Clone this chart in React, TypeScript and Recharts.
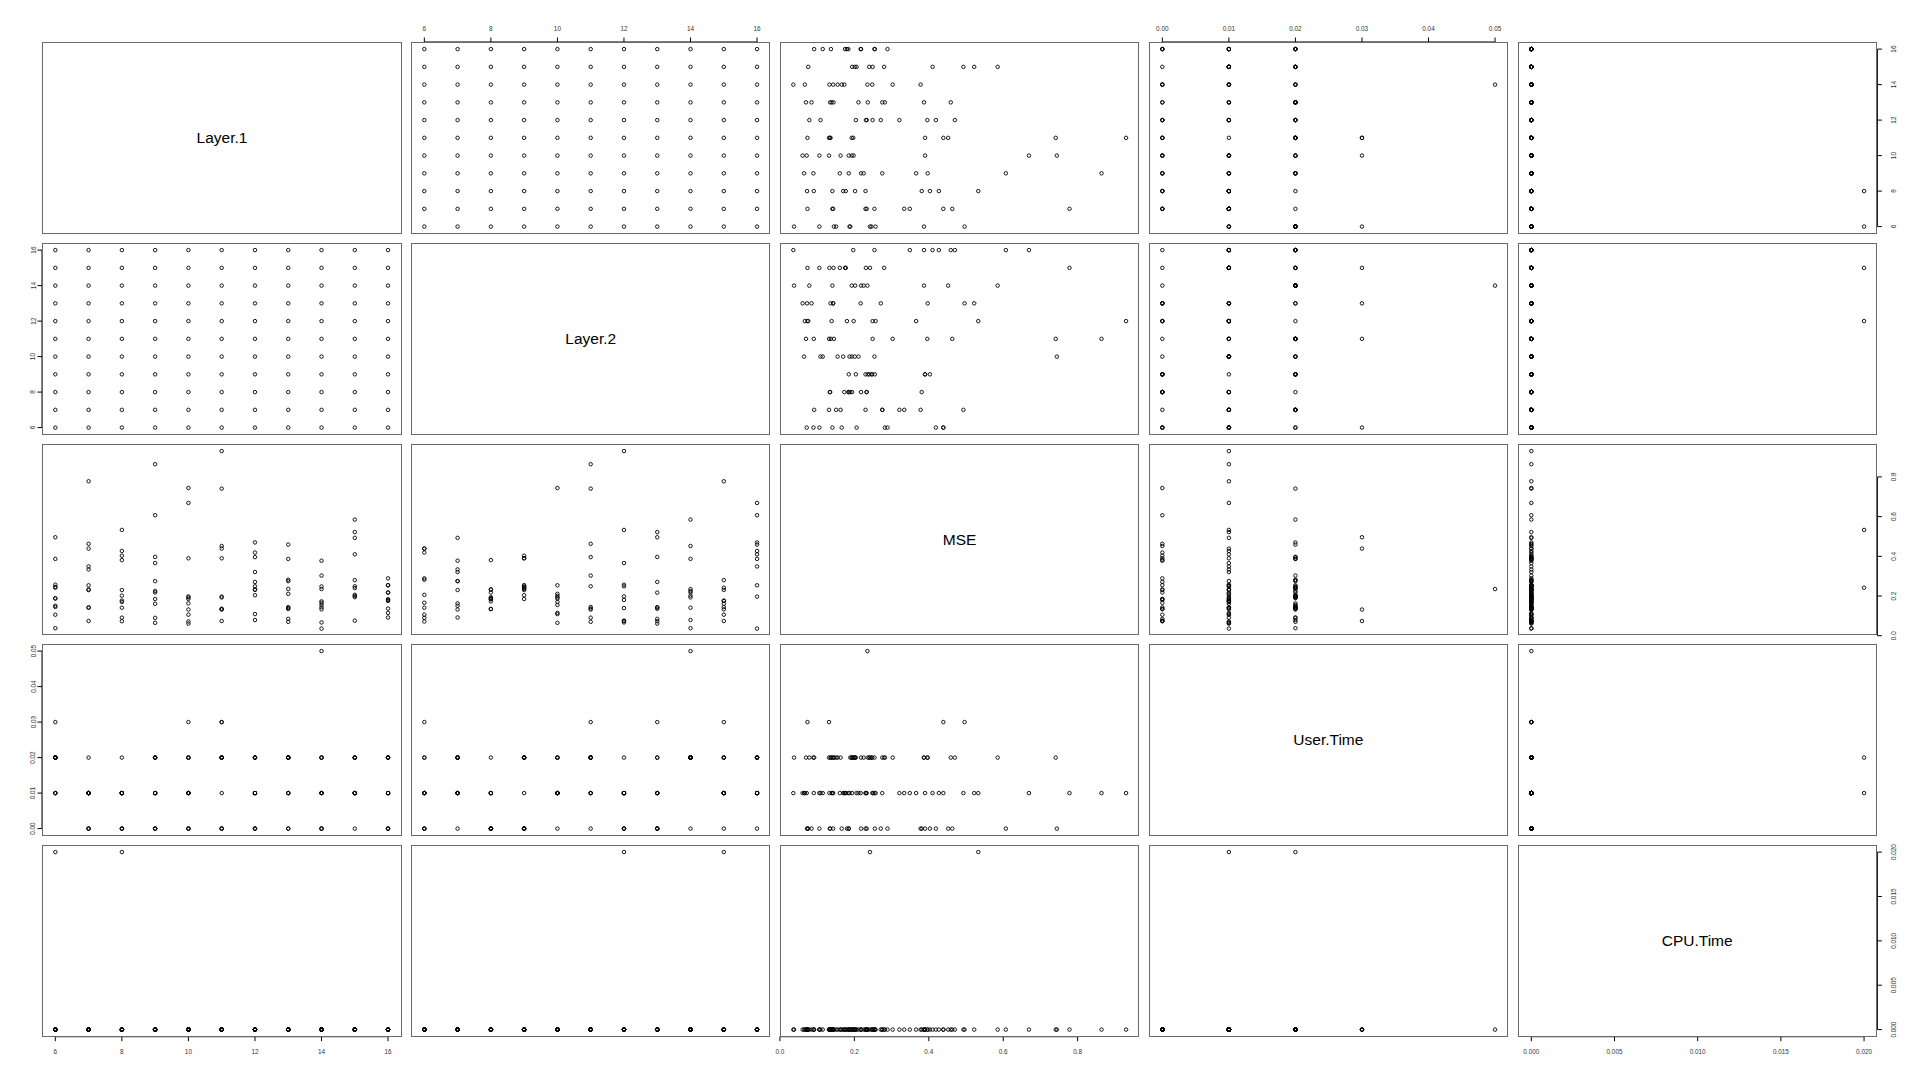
import { ReferenceLine, Scatter, ScatterChart, XAxis, YAxis } from "recharts";

// Layer.1 / Layer.2 grid (every combination of 6..16)
const layer1Values = [6, 7, 8, 9, 10, 11, 12, 13, 14, 15, 16];
const layer2Values = [6, 7, 8, 9, 10, 11, 12, 13, 14, 15, 16];

// MSE per Layer.1 value, ordered by Layer.2 = 6..16
const mseL1_6 = [0.106, 0.151, 0.189, 0.246, 0.187, 0.145, 0.257, 0.496, 0.038, 0.242, 0.387];
const mseL1_7 = [0.439, 0.334, 0.233, 0.23, 0.254, 0.463, 0.074, 0.143, 0.141, 0.778, 0.349];
const mseL1_8 = [0.141, 0.23, 0.381, 0.403, 0.17, 0.091, 0.533, 0.073, 0.202, 0.177, 0.427];
const mseL1_9 = [0.09, 0.275, 0.218, 0.185, 0.065, 0.864, 0.366, 0.397, 0.225, 0.161, 0.607];
const mseL1_10 = [0.072, 0.163, 0.185, 0.39, 0.744, 0.132, 0.198, 0.061, 0.193, 0.106, 0.669];
const mseL1_11 = [0.439, 0.132, 0.134, 0.39, 0.193, 0.741, 0.93, 0.136, 0.452, 0.074, 0.197];
const mseL1_12 = [0.419, 0.321, 0.233, 0.204, 0.109, 0.396, 0.249, 0.271, 0.079, 0.231, 0.47];
const mseL1_13 = [0.282, 0.275, 0.135, 0.236, 0.211, 0.07, 0.139, 0.085, 0.387, 0.144, 0.459];
const mseL1_14 = [0.166, 0.378, 0.173, 0.248, 0.155, 0.303, 0.067, 0.143, 0.235, 0.133, 0.036];
const mseL1_15 = [0.206, 0.493, 0.194, 0.24, 0.201, 0.249, 0.076, 0.522, 0.585, 0.28, 0.41];
const mseL1_16 = [0.289, 0.092, 0.184, 0.255, 0.115, 0.137, 0.18, 0.217, 0.218, 0.175, 0.254];

// User.Time per Layer.1 value, ordered by Layer.2 = 6..16
const utL1_6 = [0.01, 0.02, 0.02, 0.02, 0.01, 0.02, 0.01, 0.03, 0.02, 0.02, 0.02];
const utL1_7 = [0.01, 0.01, 0.01, 0, 0.01, 0, 0, 0.01, 0.02, 0.01, 0.01];
const utL1_8 = [0.01, 0.01, 0, 0, 0.01, 0.01, 0.01, 0, 0.02, 0.01, 0.01];
const utL1_9 = [0.02, 0.02, 0, 0, 0.01, 0.01, 0.01, 0.02, 0.02, 0.01, 0];
const utL1_10 = [0.01, 0.02, 0, 0.01, 0, 0.03, 0.02, 0.01, 0.02, 0, 0.01];
const utL1_11 = [0.03, 0.02, 0, 0, 0.02, 0.02, 0.01, 0.02, 0, 0.03, 0.02];
const utL1_12 = [0, 0.01, 0, 0.02, 0.01, 0.02, 0.01, 0, 0.02, 0.01, 0.02];
const utL1_13 = [0.02, 0.01, 0, 0.02, 0.01, 0.02, 0.01, 0, 0.02, 0.02, 0.02];
const utL1_14 = [0, 0, 0.01, 0.02, 0.02, 0.02, 0.01, 0, 0.05, 0.01, 0.01];
const utL1_15 = [0.01, 0.01, 0.01, 0.02, 0.02, 0.01, 0, 0.01, 0.02, 0.02, 0.01];
const utL1_16 = [0, 0.02, 0.01, 0, 0.01, 0.02, 0, 0.01, 0.02, 0.01, 0.02];

// CPU.Time per Layer.1 value, ordered by Layer.2 = 6..16
const cpuL1_6 = [0, 0, 0, 0, 0, 0, 0, 0, 0, 0.02, 0];
const cpuL1_7 = [0, 0, 0, 0, 0, 0, 0, 0, 0, 0, 0];
const cpuL1_8 = [0, 0, 0, 0, 0, 0, 0.02, 0, 0, 0, 0];
const cpuL1_9 = [0, 0, 0, 0, 0, 0, 0, 0, 0, 0, 0];
const cpuL1_10 = [0, 0, 0, 0, 0, 0, 0, 0, 0, 0, 0];
const cpuL1_11 = [0, 0, 0, 0, 0, 0, 0, 0, 0, 0, 0];
const cpuL1_12 = [0, 0, 0, 0, 0, 0, 0, 0, 0, 0, 0];
const cpuL1_13 = [0, 0, 0, 0, 0, 0, 0, 0, 0, 0, 0];
const cpuL1_14 = [0, 0, 0, 0, 0, 0, 0, 0, 0, 0, 0];
const cpuL1_15 = [0, 0, 0, 0, 0, 0, 0, 0, 0, 0, 0];
const cpuL1_16 = [0, 0, 0, 0, 0, 0, 0, 0, 0, 0, 0];

const layerTicks = [6, 8, 10, 12, 14, 16];
const mseTicks = [0, 0.2, 0.4, 0.6, 0.8];
const userTimeTicks = [0, 0.01, 0.02, 0.03, 0.04, 0.05];
const cpuTimeTicks = [0, 0.005, 0.01, 0.015, 0.02];

const mseRows = [mseL1_6, mseL1_7, mseL1_8, mseL1_9, mseL1_10, mseL1_11, mseL1_12, mseL1_13, mseL1_14, mseL1_15, mseL1_16];
const utRows = [utL1_6, utL1_7, utL1_8, utL1_9, utL1_10, utL1_11, utL1_12, utL1_13, utL1_14, utL1_15, utL1_16];
const cpuRows = [cpuL1_6, cpuL1_7, cpuL1_8, cpuL1_9, cpuL1_10, cpuL1_11, cpuL1_12, cpuL1_13, cpuL1_14, cpuL1_15, cpuL1_16];

type Row = { layer1: number; layer2: number; mse: number; userTime: number; cpuTime: number };

const rows: Row[] = layer1Values.flatMap((l1, i) =>
  layer2Values.map((l2, k) => ({
    layer1: l1,
    layer2: l2,
    mse: mseRows[i][k],
    userTime: utRows[i][k],
    cpuTime: cpuRows[i][k]
  }))
);

type VarDef = { key: keyof Row; label: string; ticks: number[]; digits: number };

const variables: VarDef[] = [
  { key: "layer1", label: "Layer.1", ticks: layerTicks, digits: 0 },
  { key: "layer2", label: "Layer.2", ticks: layerTicks, digits: 0 },
  { key: "mse", label: "MSE", ticks: mseTicks, digits: 1 },
  { key: "userTime", label: "User.Time", ticks: userTimeTicks, digits: 2 },
  { key: "cpuTime", label: "CPU.Time", ticks: cpuTimeTicks, digits: 3 }
];

// R-style range: data range extended by 4% on each side
function rDomain(key: keyof Row): [number, number] {
  const vals = rows.map((r) => r[key]);
  const lo = Math.min(...vals);
  const hi = Math.max(...vals);
  const pad = (hi - lo) * 0.04;
  return [lo - pad, hi + pad];
}

const PANEL_W = 359.4;
const PANEL_H = 191.7;
const LEFT0 = 42.3;
const TOP0 = 42.3;
const STEP_X = 368.8;
const STEP_Y = 200.7;
const AXIS_X_H = 24;
const AXIS_Y_W = 26;
const GUTTER = 12; // room so edge tick labels are not clipped
const TICK_FONT = "'Liberation Sans', Arial, Helvetica, sans-serif";

type Side = "top" | "bottom" | "left" | "right";

function makeTick(side: Side, digits: number) {
  return (props: any) => {
    const { x, y, payload } = props;
    const label = Number(payload.value).toFixed(digits);
    const style = { fontSize: 6.4, fill: "#333", fontFamily: TICK_FONT };
    if (side === "bottom" || side === "top") {
      const ty = side === "bottom" ? y + 10 : y - 8.8;
      return (
        <text x={x} y={ty} textAnchor="middle" dominantBaseline="central" {...style}>
          {label}
        </text>
      );
    }
    const cx = side === "left" ? x - 4.5 : x + 11.5;
    return (
      <text
        x={cx}
        y={y}
        transform={`rotate(-90 ${cx} ${y})`}
        textAnchor="middle"
        dominantBaseline="central"
        {...style}
      >
        {label}
      </text>
    );
  };
}

const circleShape = (props: any) => (
  <circle cx={props.cx} cy={props.cy} r={1.75} fill="none" stroke="#000" strokeWidth={0.9} />
);

function Panel({ row, col }: { row: number; col: number }) {
  const xv = variables[col];
  const yv = variables[row];
  const top = row === 0 && col % 2 === 1;
  const bottom = row === 4 && col % 2 === 0;
  const left = col === 0 && row % 2 === 1;
  const right = col === 4 && row % 2 === 0;
  const xDom = rDomain(xv.key);
  const yDom = rDomain(yv.key);
  const padL = left ? AXIS_Y_W : 0;
  const padR = right ? AXIS_Y_W : 0;
  const padT = top ? AXIS_X_H : 0;
  const padB = bottom ? AXIS_X_H : 0;
  const boxLeft = LEFT0 + col * STEP_X;
  const boxTop = TOP0 + row * STEP_Y;
  const diag = row === col;
  const xTicks = xv.ticks;
  const yTicks = yv.ticks;

  return (
    <>
      <div
        style={{
          position: "absolute",
          left: boxLeft - padL - GUTTER,
          top: boxTop - padT - GUTTER
        }}
      >
        <ScatterChart
          width={PANEL_W + padL + padR + 2 * GUTTER}
          height={PANEL_H + padT + padB + 2 * GUTTER}
          margin={{ top: GUTTER, right: GUTTER, bottom: GUTTER, left: GUTTER }}
        >
          <XAxis
            type="number"
            dataKey={xv.key}
            domain={xDom}
            allowDataOverflow
            hide={!(top || bottom)}
            orientation={top ? "top" : "bottom"}
            height={AXIS_X_H}
            ticks={xTicks}
            interval={0}
            axisLine={false}
            tickLine={{ stroke: "#000" }}
            tickSize={4.5}
            tickMargin={0}
            tick={makeTick(top ? "top" : "bottom", xv.digits)}
          />
          <YAxis
            type="number"
            dataKey={yv.key}
            domain={yDom}
            allowDataOverflow
            hide={!(left || right)}
            orientation={right ? "right" : "left"}
            width={AXIS_Y_W}
            ticks={yTicks}
            interval={0}
            axisLine={false}
            tickLine={{ stroke: "#000" }}
            tickSize={4.5}
            tickMargin={0}
            tick={makeTick(right ? "right" : "left", yv.digits)}
          />
          {!diag && (
            <Scatter data={rows} isAnimationActive={false} shape={circleShape} />
          )}
          {bottom && (
            <ReferenceLine
              segment={[
                { x: xTicks[0], y: yDom[0] },
                { x: xTicks[xTicks.length - 1], y: yDom[0] }
              ]}
              stroke="#000"
              ifOverflow="visible"
            />
          )}
          {top && (
            <ReferenceLine
              segment={[
                { x: xTicks[0], y: yDom[1] },
                { x: xTicks[xTicks.length - 1], y: yDom[1] }
              ]}
              stroke="#000"
              ifOverflow="visible"
            />
          )}
          {left && (
            <ReferenceLine
              segment={[
                { x: xDom[0], y: yTicks[0] },
                { x: xDom[0], y: yTicks[yTicks.length - 1] }
              ]}
              stroke="#000"
              ifOverflow="visible"
            />
          )}
          {right && (
            <ReferenceLine
              segment={[
                { x: xDom[1], y: yTicks[0] },
                { x: xDom[1], y: yTicks[yTicks.length - 1] }
              ]}
              stroke="#000"
              ifOverflow="visible"
            />
          )}
        </ScatterChart>
      </div>
      <div
        style={{
          position: "absolute",
          left: boxLeft,
          top: boxTop,
          width: PANEL_W,
          height: PANEL_H,
          boxSizing: "border-box",
          border: "1px solid #6a6a6a",
          pointerEvents: "none",
          display: "flex",
          alignItems: "center",
          justifyContent: "center",
          fontFamily: TICK_FONT,
          fontSize: 15.5,
          color: "#000"
        }}
      >
        {diag ? yv.label : null}
      </div>
    </>
  );
}

export default function App() {
  const cells: { row: number; col: number }[] = [];
  for (let r = 0; r < variables.length; r++) {
    for (let c = 0; c < variables.length; c++) cells.push({ row: r, col: c });
  }
  return (
    <div
      style={{
        position: "absolute",
        left: 0,
        top: 0,
        width: 1920,
        height: 1080,
        background: "#fff",
        overflow: "hidden"
      }}
    >
      {cells.map((c) => (
        <Panel key={`${c.row}-${c.col}`} row={c.row} col={c.col} />
      ))}
    </div>
  );
}
